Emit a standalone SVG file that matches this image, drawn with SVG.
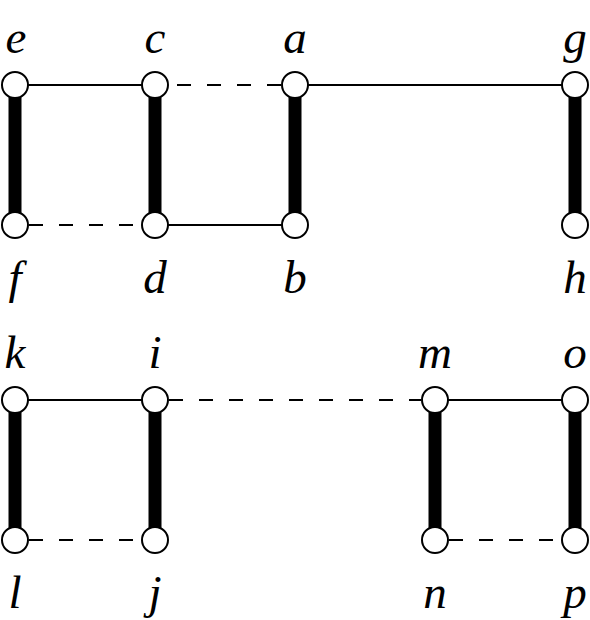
<svg xmlns="http://www.w3.org/2000/svg" width="590" height="620" viewBox="0 0 590 620">
<style>
.thin{stroke:#000;stroke-width:2;fill:none}
.dash{stroke:#000;stroke-width:2;fill:none;stroke-dasharray:14 16}
.thick{stroke:#000;stroke-width:13;fill:none}
.node circle{fill:#fff;stroke:#000;stroke-width:2}
.node text{font-family:"Liberation Serif","DejaVu Serif",serif;font-style:italic;font-size:47px;text-anchor:middle;fill:#000}
</style>
<rect width="590" height="620" fill="#fff"/>
<g id="connectors">
<line class="thin" x1="15" y1="85" x2="155" y2="85"/>
<line class="dash" x1="281" y1="85" x2="169" y2="85"/>
<line class="thin" x1="295" y1="85" x2="575" y2="85"/>
<line class="dash" x1="29" y1="225" x2="141" y2="225"/>
<line class="thin" x1="155" y1="225" x2="295" y2="225"/>
<line class="thick" x1="15" y1="85" x2="15" y2="225"/>
<line class="thick" x1="155" y1="85" x2="155" y2="225"/>
<line class="thick" x1="295" y1="85" x2="295" y2="225"/>
<line class="thick" x1="575" y1="85" x2="575" y2="225"/>
<line class="thin" x1="15" y1="400" x2="155" y2="400"/>
<line class="dash" x1="169" y1="400" x2="421" y2="400"/>
<line class="thin" x1="435" y1="400" x2="575" y2="400"/>
<line class="dash" x1="29" y1="540" x2="141" y2="540"/>
<line class="dash" x1="449" y1="540" x2="561" y2="540"/>
<line class="thick" x1="15" y1="400" x2="15" y2="540"/>
<line class="thick" x1="155" y1="400" x2="155" y2="540"/>
<line class="thick" x1="435" y1="400" x2="435" y2="540"/>
<line class="thick" x1="575" y1="400" x2="575" y2="540"/>
</g>
<g id="e" class="node"><circle cx="15" cy="85" r="13"/><text x="16" y="53">e</text></g>
<g id="c" class="node"><circle cx="155" cy="85" r="13"/><text x="155" y="53">c</text></g>
<g id="a" class="node"><circle cx="295" cy="85" r="13"/><text x="295" y="53">a</text></g>
<g id="g" class="node"><circle cx="575" cy="85" r="13"/><text x="575" y="53">g</text></g>
<g id="f" class="node"><circle cx="15" cy="225" r="13"/><text x="15" y="293">f</text></g>
<g id="d" class="node"><circle cx="155" cy="225" r="13"/><text x="155" y="293">d</text></g>
<g id="b" class="node"><circle cx="295" cy="225" r="13"/><text x="295" y="293">b</text></g>
<g id="h" class="node"><circle cx="575" cy="225" r="13"/><text x="575" y="293">h</text></g>
<g id="k" class="node"><circle cx="15" cy="400" r="13"/><text x="15" y="368">k</text></g>
<g id="i" class="node"><circle cx="155" cy="400" r="13"/><text x="155" y="368">i</text></g>
<g id="m" class="node"><circle cx="435" cy="400" r="13"/><text x="435" y="368">m</text></g>
<g id="o" class="node"><circle cx="575" cy="400" r="13"/><text x="575" y="368">o</text></g>
<g id="l" class="node"><circle cx="15" cy="540" r="13"/><text x="15" y="608">l</text></g>
<g id="j" class="node"><circle cx="155" cy="540" r="13"/><text x="155" y="608">j</text></g>
<g id="n" class="node"><circle cx="435" cy="540" r="13"/><text x="435" y="608">n</text></g>
<g id="p" class="node"><circle cx="575" cy="540" r="13"/><text x="575" y="608">p</text></g>
</svg>
